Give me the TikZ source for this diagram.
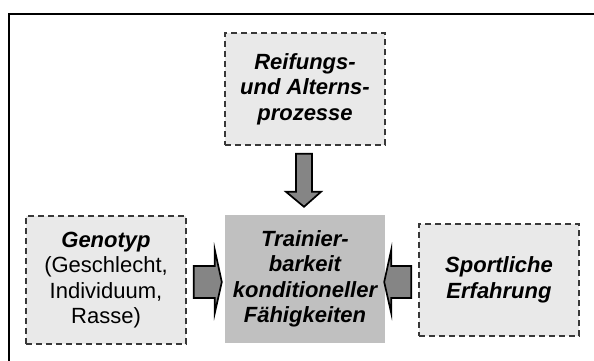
\documentclass[tikz,border=0pt]{standalone}
\usepackage{fontspec}
\setmainfont{Liberation Sans}
\usetikzlibrary{calc}
\definecolor{boxfill}{HTML}{E9E9E9}
\definecolor{boxline}{HTML}{383838}
\definecolor{midfill}{HTML}{C0C0C0}
\definecolor{arrfill}{HTML}{858585}
\tikzset{
  factor/.style={draw=boxline, fill=boxfill, line width=2pt, dash pattern=on 6pt off 4pt,
    minimum width=160pt, inner sep=0pt, align=center,
    font=\fontsize{22}{25.5}\selectfont},
  target/.style={fill=midfill, minimum width=160pt, minimum height=128pt, inner sep=0pt,
    align=center, font=\fontsize{22}{25.5}\selectfont\bfseries\itshape},
  fatarrow/.style={draw=black, fill=arrfill, line width=1.7pt, line join=miter},
  frame/.style={draw=black, line width=2.6pt}
}
\begin{document}
\begin{tikzpicture}[x={(1pt,0pt)}, y={(0pt,-1pt)}]
\clip (0,0) rectangle (594,361);
\fill[white] (0,0) rectangle (594,361);
\draw[frame] (9,380) -- (9,14) -- (620,14);

\node[factor, minimum height=112pt] (reif) at (305,89)
  {\bfseries\itshape Reifungs-\\\bfseries\itshape und Alterns-\\\bfseries\itshape prozesse};
\node[factor, minimum height=128pt] (geno) at (106,280)
  {\bfseries\itshape Genotyp\\(Geschlecht,\\Individuum,\\Rasse)};
\node[target] (train) at (305,279)
  {Trainier-\\barkeit\\konditioneller\\Fähigkeiten};
\node[factor, minimum height=112pt] (sport) at (499,280)
  {\bfseries\itshape Sportliche\\\bfseries\itshape Erfahrung};

% arrow tips, placed relative to the target box
\coordinate (tdown) at ($(train.north)+(-1,-8)$);
\coordinate (tleft) at ($(train.west)+(-3,3)$);
\coordinate (tright) at ($(train.east)+(-1,3)$);

\draw[fatarrow] (tdown) -- ++(-18,-15) -- ++(10,0) -- ++(0,-38) -- ++(16,0)
  -- ++(0,38) -- ++(9,0) -- cycle;
\draw[fatarrow] (tleft) -- ++(-7,-32) -- ++(0,16) -- ++(-21,0) -- ++(0,32)
  -- ++(21,0) -- ++(0,15) -- cycle;
\draw[fatarrow] (tright) -- ++(7,-32) -- ++(0,16) -- ++(20,0) -- ++(0,32)
  -- ++(-20,0) -- ++(0,15) -- cycle;
\end{tikzpicture}
\end{document}
